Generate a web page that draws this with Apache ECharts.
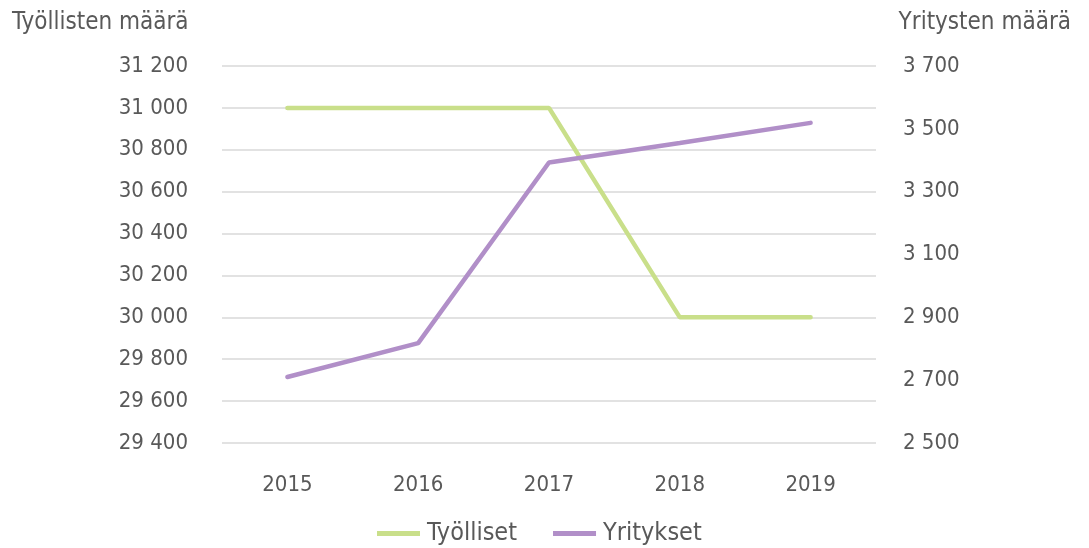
<!DOCTYPE html>
<html>
<head>
<meta charset="utf-8">
<script src="https://cdn.jsdelivr.net/npm/echarts@6/dist/echarts.min.js"></script>
<style>
  html, body { margin: 0; padding: 0; background: #ffffff; }
  #chart { width: 1089px; height: 548px; }
</style>
</head>
<body>
<div id="chart"></div>
<script>
// Vuodet ja sarjat
const years = ['2015', '2016', '2017', '2018', '2019'];
const tyolliset = [31000, 31000, 31000, 30000, 30000];
const yritykset = [2710, 2818, 3393, 3455, 3519];
const leftAxisName = 'Työllisten määrä';
const rightAxisName = 'Yritysten määrä';
const seriesNames = ['Työlliset', 'Yritykset'];

const FONT = '"DejaVu Sans Condensed", "Liberation Sans Narrow", "Roboto", sans-serif';
const TEXT = '#595959';

// Tuhaterotin välilyönnillä
const fmt = v => String(v).replace(/\B(?=(\d{3})+(?!\d))/g, ' ');

const chart = echarts.init(document.getElementById('chart'));
chart.setOption({
  animation: false,
  textStyle: { fontFamily: FONT, color: TEXT },
  title: [
    { text: leftAxisName, left: 7, top: 6,
      textStyle: { fontFamily: FONT, fontSize: 24, fontWeight: 'normal', color: TEXT } },
    { text: rightAxisName, right: 13, top: 6,
      textStyle: { fontFamily: FONT, fontSize: 24, fontWeight: 'normal', color: TEXT } }
  ],
  grid: { left: 222, right: 213, top: 66, bottom: 105, containLabel: false },
  legend: {
    bottom: -3,
    left: 372,
    itemWidth: 43,
    itemHeight: 5,
    itemGap: 36,
    icon: 'rect',
    textStyle: { fontFamily: FONT, fontSize: 25, color: TEXT, padding: [0, 0, 0, 2] },
    data: seriesNames
  },
  xAxis: {
    type: 'category',
    data: years,
    boundaryGap: true,
    axisLine: { show: false },
    axisTick: { show: false },
    axisLabel: { fontFamily: FONT, fontSize: 22, color: TEXT, margin: 31 }
  },
  yAxis: [
    {
      type: 'value',
      min: 29400, max: 31200, interval: 200,
      axisLine: { show: false },
      axisTick: { show: false },
      axisLabel: { fontFamily: FONT, fontSize: 22, color: TEXT, margin: 34, formatter: fmt },
      splitLine: { lineStyle: { color: '#d9d9d9', width: 1.5 } }
    },
    {
      type: 'value',
      min: 2500, max: 3700, interval: 200,
      axisLine: { show: false },
      axisTick: { show: false },
      axisLabel: { fontFamily: FONT, fontSize: 22, color: TEXT, margin: 27, formatter: fmt },
      splitLine: { show: false }
    }
  ],
  series: [
    {
      name: seriesNames[0],
      type: 'line',
      yAxisIndex: 0,
      data: tyolliset,
      showSymbol: false,
      color: '#c9df8a',
      lineStyle: { width: 4.5, color: '#c9df8a', cap: 'round' }
    },
    {
      name: seriesNames[1],
      type: 'line',
      yAxisIndex: 1,
      data: yritykset,
      showSymbol: false,
      color: '#b18fc8',
      lineStyle: { width: 4.5, color: '#b18fc8', cap: 'round' }
    }
  ]
});
</script>
</body>
</html>
